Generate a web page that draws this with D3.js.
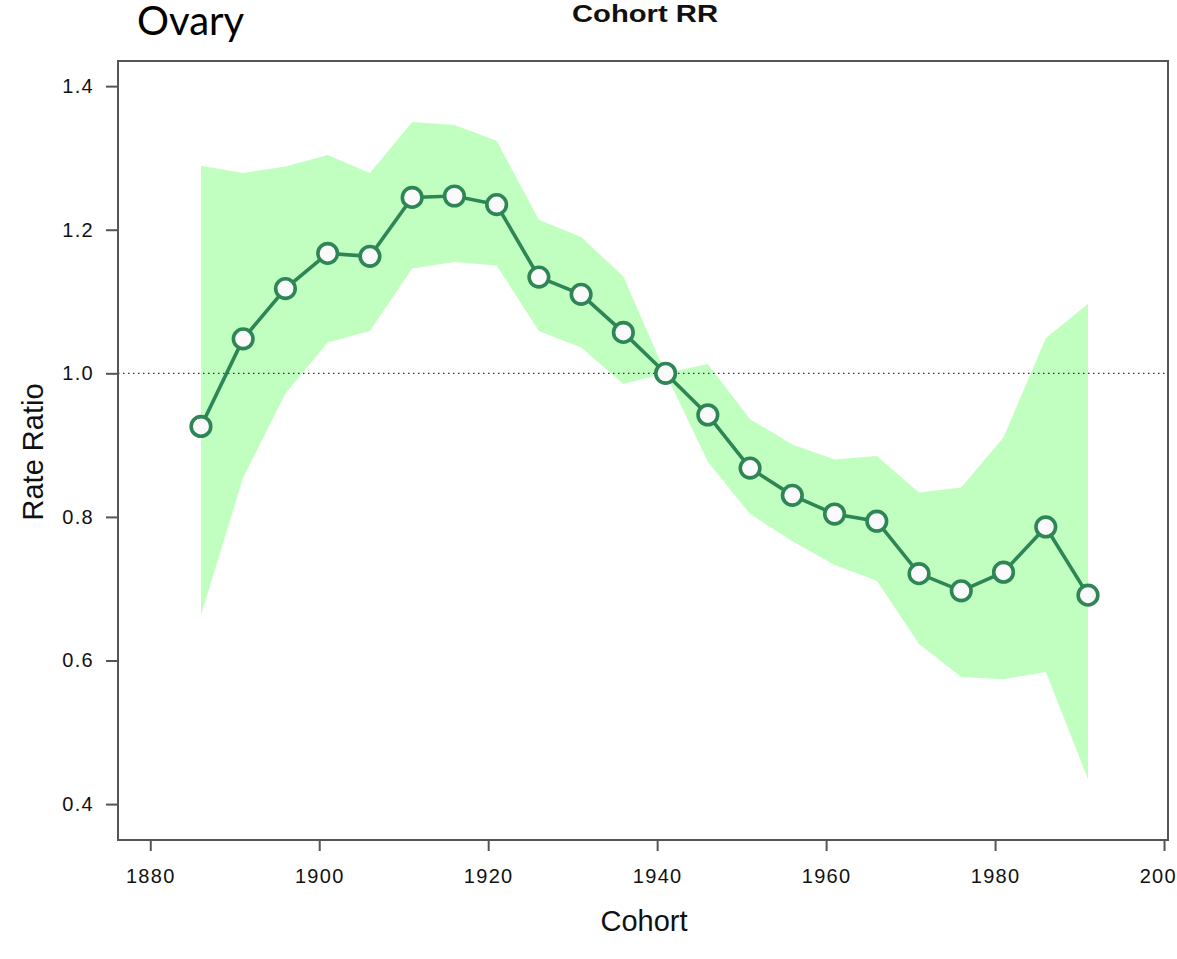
<!DOCTYPE html>
<html>
<head>
<meta charset="utf-8">
<script src="https://cdn.jsdelivr.net/npm/d3@7"></script>
<style>
  html, body { margin: 0; padding: 0; background: #fff; }
  svg { display: block; }
</style>
</head>
<body>
<svg id="chart" width="1177" height="959"></svg>
<script>
// ---- data ----
const cohorts = [1886,1891,1896,1901,1906,1911,1916,1921,1926,1931,1936,1941,1946,1951,1956,1961,1966,1971,1976,1981,1986,1991];
const rateRatio = [0.926,1.048,1.118,1.167,1.163,1.245,1.247,1.235,1.134,1.110,1.057,1.000,0.942,0.868,0.830,0.804,0.794,0.721,0.697,0.723,0.786,0.691];
const upperCI  = [1.289,1.279,1.288,1.304,1.279,1.350,1.346,1.324,1.214,1.190,1.135,1.000,1.013,0.936,0.901,0.880,0.885,0.834,0.841,0.911,1.049,1.097];
const lowerCI  = [0.663,0.855,0.972,1.043,1.059,1.146,1.155,1.150,1.059,1.036,0.985,1.000,0.877,0.804,0.766,0.733,0.711,0.623,0.577,0.574,0.584,0.435];
const xTicks = [1880,1900,1920,1940,1960,1980,2000];
const yTicks = [0.4,0.6,0.8,1.0,1.2,1.4];
const pageLabel = "Ovary";
const title = "Cohort RR";
const xTitle = "Cohort";
const yTitle = "Rate Ratio";

// ---- layout ----
const L = 118, R = 1168, T = 61, B = 840;
const svg = d3.select("#chart");
const x = d3.scaleLinear().domain([1876.18, 2000.47]).range([L, R]);
const y = d3.scaleLinear().domain([0.35, 1.435]).range([B, T]);

const rows = cohorts.map((c, i) => ({c, v: rateRatio[i], lo: lowerCI[i], hi: upperCI[i]}));

// band
svg.append("path")
  .datum(rows)
  .attr("fill", "#c1ffc1")
  .attr("d", d3.area().x(d => x(d.c)).y0(d => y(d.lo)).y1(d => y(d.hi)));

// reference line
svg.append("line")
  .attr("x1", L).attr("x2", R)
  .attr("y1", y(1)).attr("y2", y(1))
  .attr("stroke", "#333").attr("stroke-width", 1.2)
  .attr("stroke-dasharray", "1.5,3.5");

// line
svg.append("path")
  .datum(rows)
  .attr("fill", "none")
  .attr("stroke", "#2e8555")
  .attr("stroke-width", 3.6)
  .attr("d", d3.line().x(d => x(d.c)).y(d => y(d.v)));

// points
svg.append("g").selectAll("circle").data(rows).join("circle")
  .attr("cx", d => x(d.c)).attr("cy", d => y(d.v))
  .attr("r", 9.8)
  .attr("fill", "#fafafa")
  .attr("stroke", "#2e8555")
  .attr("stroke-width", 3.6);

// frame
svg.append("rect")
  .attr("x", L).attr("y", T).attr("width", R - L).attr("height", B - T)
  .attr("fill", "none").attr("stroke", "#555").attr("stroke-width", 2);

const tickFont = sel => sel.attr("fill", "#111")
  .style("font-family", "'Liberation Sans', Arial, sans-serif")
  .style("font-size", "20px").style("letter-spacing", "1.3px");

// y axis
const yAxis = d3.axisLeft(y).tickValues(yTicks).tickFormat(d3.format(".1f"))
  .tickSize(12).tickPadding(12);
const gy = svg.append("g").attr("transform", `translate(${L},0)`).call(yAxis);
gy.select(".domain").remove();
gy.selectAll(".tick line").attr("stroke", "#555").attr("stroke-width", 2);
gy.selectAll(".tick text").call(tickFont);

// x axis
const xAxis = d3.axisBottom(x).tickValues(xTicks).tickFormat(d3.format("d"))
  .tickSize(11).tickPadding(18);
const gx = svg.append("g").attr("transform", `translate(0,${B})`).call(xAxis);
gx.select(".domain").remove();
gx.selectAll(".tick line").attr("stroke", "#555").attr("stroke-width", 2);
gx.selectAll(".tick text").call(tickFont);

// titles
svg.append("text")
  .attr("x", 645).attr("y", 22)
  .attr("text-anchor", "middle")
  .attr("textLength", 146).attr("lengthAdjust", "spacingAndGlyphs")
  .style("font-family", "'Liberation Sans', Arial, sans-serif")
  .style("font-weight", "bold").style("font-size", "23px")
  .attr("fill", "#111")
  .text(title);

svg.append("text")
  .attr("x", 644).attr("y", 931)
  .attr("text-anchor", "middle")
  .style("font-family", "'Liberation Sans', Arial, sans-serif")
  .style("font-size", "29px")
  .attr("fill", "#111")
  .text(xTitle);

svg.append("text")
  .attr("transform", "translate(43,452) rotate(-90)")
  .attr("text-anchor", "middle")
  .style("font-family", "'Liberation Sans', Arial, sans-serif")
  .style("font-size", "29px")
  .attr("fill", "#111")
  .text(yTitle);

svg.append("text")
  .attr("x", 137).attr("y", 35)
  .style("font-family", "Lato, 'Open Sans', sans-serif")
  .style("font-size", "40px")
  .attr("fill", "#000")
  .text(pageLabel);
</script>
</body>
</html>
